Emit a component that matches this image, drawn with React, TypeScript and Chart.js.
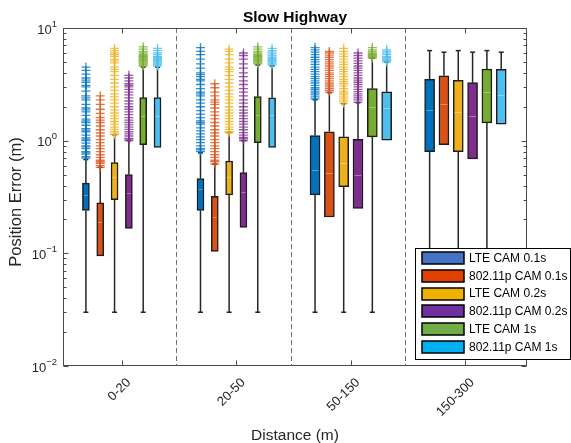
import React, { useEffect, useRef } from 'react';
import { Chart, registerables } from 'chart.js';

Chart.register(...registerables);

// ---------------- data ----------------
const categories = ['0-20', '20-50', '50-150', '150-300'];
const seriesNames = [
  'LTE CAM 0.1s',
  '802.11p CAM 0.1s',
  'LTE CAM 0.2s',
  '802.11p CAM 0.2s',
  'LTE CAM 1s',
  '802.11p CAM 1s',
];

// rows: series, columns: distance categories
const q1 = [
  [0.24, 0.24, 0.33, 0.8],
  [0.095, 0.104, 0.21, 0.92],
  [0.3, 0.33, 0.39, 0.8],
  [0.166, 0.17, 0.25, 0.69],
  [0.92, 0.96, 1.08, 1.44],
  [0.87, 0.87, 1.01, 1.4],
];
const medians = [
  [0.33, 0.37, 0.545, 1.88],
  [0.19, 0.21, 0.52, 2.13],
  [0.48, 0.48, 0.64, 1.81],
  [0.34, 0.35, 0.5, 1.67],
  [1.67, 1.7, 2.0, 2.68],
  [1.67, 1.68, 1.96, 2.56],
];
const q3 = [
  [0.42, 0.46, 1.11, 3.5],
  [0.28, 0.32, 1.2, 3.77],
  [0.64, 0.66, 1.08, 3.43],
  [0.5, 0.52, 1.03, 3.27],
  [2.41, 2.46, 2.9, 4.33],
  [2.41, 2.4, 2.71, 4.3],
];
const whiskerLow = [
  [0.03, 0.03, 0.03, 0.03],
  [0.095, 0.104, 0.21, 0.92],
  [0.03, 0.03, 0.03, 0.03],
  [0.166, 0.17, 0.25, 0.69],
  [0.03, 0.03, 0.03, 0.03],
  [0.87, 0.87, 1.01, 1.4],
];
const whiskerHigh = [
  [0.68, 0.78, 2.31, 6.3],
  [0.58, 0.62, 2.67, 6.1],
  [1.13, 1.18, 2.13, 6.3],
  [1.0, 1.0, 2.17, 6.1],
  [4.5, 4.7, 5.4, 6.3],
  [4.5, 4.6, 5.0, 6.1],
];

const outliersLte01 = [
  [0.7, 0.72, 0.76, 0.78, 0.8, 0.85, 0.88, 0.9, 0.95, 1.0, 1.03, 1.06, 1.12, 1.2, 1.24, 1.28, 1.37, 1.45, 1.5, 1.55, 1.68, 1.8, 1.88, 1.95, 2.1, 2.3, 2.4, 2.5, 2.75, 3.0, 3.1, 3.3, 3.45, 3.6, 3.9, 4.2, 4.5],
  [0.8, 0.83, 0.85, 0.9, 0.96, 1.02, 1.08, 1.15, 1.22, 1.3, 1.4, 1.45, 1.5, 1.6, 1.72, 1.85, 2.0, 2.15, 2.3, 2.5, 2.6, 2.7, 2.9, 3.15, 3.4, 3.5, 3.7, 3.85, 4.0, 4.4, 4.8, 5.3, 5.8, 6.2, 6.7],
  [2.35, 2.45, 2.55, 2.65, 2.75, 2.85, 2.95, 3.1, 3.25, 3.4, 3.55, 3.7, 3.9, 4.1, 4.3, 4.5, 4.75, 5.0, 5.25, 5.5, 5.8, 6.1, 6.4, 6.7],
  [],
];
const outliersP01 = [
  [0.58, 0.6, 0.63, 0.65, 0.67, 0.71, 0.75, 0.8, 0.85, 0.9, 0.96, 1.02, 1.1, 1.17, 1.25, 1.35, 1.45, 1.52, 1.6, 1.75, 1.9, 2.1, 2.3, 2.5],
  [0.62, 0.65, 0.67, 0.71, 0.75, 0.8, 0.85, 0.9, 0.96, 1.02, 1.1, 1.17, 1.25, 1.35, 1.45, 1.56, 1.68, 1.8, 1.95, 2.1, 2.2, 2.3, 2.5, 2.7, 2.95, 3.2],
  [2.7, 2.8, 2.9, 3.0, 3.12, 3.25, 3.4, 3.55, 3.7, 3.85, 4.0, 4.2, 4.4, 4.6, 4.8, 5.0, 5.25, 5.5, 5.75, 6.0, 6.2],
  [],
];
const outliersLte02 = [
  [1.13, 1.15, 1.2, 1.26, 1.32, 1.4, 1.48, 1.57, 1.66, 1.76, 1.87, 2.0, 2.15, 2.3, 2.45, 2.6, 2.8, 3.0, 3.25, 3.5, 3.8, 4.1, 4.3, 4.5, 4.9, 5.1, 5.3, 5.6, 5.8, 6.0, 6.3, 6.6],
  [1.18, 1.2, 1.26, 1.32, 1.4, 1.48, 1.57, 1.66, 1.76, 1.87, 2.0, 2.15, 2.3, 2.45, 2.6, 2.8, 3.0, 3.25, 3.5, 3.8, 4.1, 4.3, 4.5, 4.9, 5.3, 5.8, 6.2, 6.5],
  [2.15, 2.25, 2.35, 2.45, 2.55, 2.65, 2.75, 2.9, 3.05, 3.2, 3.35, 3.5, 3.7, 3.9, 4.1, 4.3, 4.5, 4.75, 5.0, 5.3, 5.6, 5.9, 6.2, 6.6],
  [],
];
const outliersP02 = [
  [1.0, 1.03, 1.05, 1.1, 1.15, 1.2, 1.26, 1.32, 1.38, 1.45, 1.52, 1.6, 1.7, 1.8, 1.9, 2.0, 2.12, 2.25, 2.4, 2.55, 2.7, 2.85, 3.0, 3.1, 3.2, 3.4, 3.6, 3.8],
  [1.0, 1.04, 1.07, 1.12, 1.18, 1.25, 1.32, 1.4, 1.48, 1.57, 1.66, 1.76, 1.87, 2.0, 2.15, 2.3, 2.5, 2.7, 2.9, 3.15, 3.4, 3.7, 4.0, 4.4, 4.8, 5.3, 5.7, 6.0],
  [2.2, 2.3, 2.4, 2.5, 2.6, 2.72, 2.85, 3.0, 3.15, 3.3, 3.45, 3.6, 3.8, 4.0, 4.2, 4.4, 4.6, 4.85, 5.1, 5.4, 5.7, 6.0],
  [],
];
const outliersLte1 = [
  [4.6, 4.7, 4.8, 4.9, 5.0, 5.1, 5.2, 5.3, 5.4, 5.5, 5.6, 5.7, 5.8, 6.0, 6.2, 6.5, 6.8],
  [4.8, 4.9, 5.0, 5.1, 5.2, 5.3, 5.4, 5.5, 5.6, 5.7, 5.8, 6.0, 6.2, 6.5, 6.8],
  [5.4, 5.5, 5.6, 5.7, 5.8, 5.9, 6.0, 6.2, 6.4, 6.7],
  [],
];
const outliersP1 = [
  [4.6, 4.7, 4.8, 4.9, 5.0, 5.1, 5.2, 5.3, 5.4, 5.5, 5.6, 5.8, 6.0, 6.3, 6.6],
  [4.7, 4.8, 4.9, 5.0, 5.1, 5.2, 5.3, 5.4, 5.5, 5.7, 5.9, 6.1, 6.3, 6.6],
  [5.0, 5.1, 5.2, 5.3, 5.4, 5.5, 5.6, 5.8, 6.0, 6.2, 6.4],
  [],
];
const outliers = [outliersLte01, outliersP01, outliersLte02, outliersP02, outliersLte1, outliersP1];

const yTickValues = [0.01, 0.1, 1, 10];
const yTickExponents = ['-2', '-1', '0', '1'];

// ---------------- styles / layout ----------------
const boxColors = ['#0072BD', '#D95319', '#EDB120', '#7E2F8E', '#77AC30', '#4DBEEE'];
const legendColors = ['#4472C4', '#E04000', '#EDB100', '#7030A0', '#70AD47', '#00B0F0'];
const FONT = "'Liberation Sans', Arial, Helvetica, sans-serif";
const W = 571;
const H = 443;
const PLOT_LEFT = 63;
const PLOT_RIGHT = 527;
const PLOT_TOP = 28;
const PLOT_BOTTOM = 366;
const GROUP_STRIDE = 8;
const pos = (g: number, s: number) => g * GROUP_STRIDE + s + 1;
const groupCenter = (g: number) => g * GROUP_STRIDE + 3.5;
const boxPx = (g: number) => (g < 2 ? 7 : 10);

function rgba(hex: string, a: number) {
  const n = parseInt(hex.slice(1), 16);
  return `rgba(${(n >> 16) & 255},${(n >> 8) & 255},${n & 255},${a})`;
}

const extrasPlugin = {
  id: 'boxplotExtras',
  beforeDatasetsDraw(chart: any) {
    const { ctx, chartArea: a } = chart;
    const x = chart.scales.x;
    const y = chart.scales.y;
    ctx.save();
    // dashed group separators
    ctx.strokeStyle = '#707070';
    ctx.lineWidth = 1;
    ctx.setLineDash([5, 3]);
    for (let g = 1; g < categories.length; g++) {
      const px = Math.round(x.getPixelForValue(g * GROUP_STRIDE - 0.7)) + 0.5;
      ctx.beginPath();
      ctx.moveTo(px, a.top);
      ctx.lineTo(px, a.bottom);
      ctx.stroke();
    }
    ctx.setLineDash([]);
    // whiskers
    ctx.strokeStyle = '#262626';
    ctx.lineWidth = 1.5;
    seriesNames.forEach((_, s) => {
      categories.forEach((__, g) => {
        const px = x.getPixelForValue(pos(g, s));
        const segs = [
          [q3[s][g], whiskerHigh[s][g]],
          [q1[s][g], whiskerLow[s][g]],
        ];
        segs.forEach(([from, to]) => {
          if (Math.abs(to - from) < 1e-9) return;
          const y0 = y.getPixelForValue(from);
          const y1 = y.getPixelForValue(to);
          ctx.beginPath();
          ctx.moveTo(px, y0);
          ctx.lineTo(px, y1);
          ctx.stroke();
          ctx.beginPath();
          ctx.moveTo(px - 2.5, y1);
          ctx.lineTo(px + 2.5, y1);
          ctx.stroke();
        });
      });
    });
    ctx.restore();
  },
  afterDatasetsDraw(chart: any) {
    const { ctx } = chart;
    const x = chart.scales.x;
    const y = chart.scales.y;
    ctx.save();
    ctx.strokeStyle = 'rgba(255,255,255,0.35)';
    ctx.lineWidth = 1;
    seriesNames.forEach((_, s) => {
      categories.forEach((__, g) => {
        const px = x.getPixelForValue(pos(g, s));
        const py = Math.round(y.getPixelForValue(medians[s][g])) + 0.5;
        const hw = boxPx(g) / 2 - 1.5;
        ctx.beginPath();
        ctx.moveTo(px - hw, py);
        ctx.lineTo(px + hw, py);
        ctx.stroke();
      });
    });
    ctx.restore();
  },
  afterDraw(chart: any) {
    const { ctx, chartArea: a } = chart;
    const x = chart.scales.x;
    const y = chart.scales.y;
    ctx.save();
    // frame
    const L = Math.round(a.left) + 0.5;
    const R = Math.round(a.right) - 0.5;
    const T = Math.round(a.top) + 0.5;
    const B = Math.round(a.bottom) - 0.5;
    ctx.strokeStyle = '#4a4a4a';
    ctx.lineWidth = 1;
    ctx.strokeRect(L, T, R - L, B - T);
    // x ticks (inward, top & bottom)
    ctx.beginPath();
    categories.forEach((_, g) => {
      const px = Math.round(x.getPixelForValue(groupCenter(g))) + 0.5;
      ctx.moveTo(px, B);
      ctx.lineTo(px, B - 5);
      ctx.moveTo(px, T);
      ctx.lineTo(px, T + 5);
    });
    // y ticks, major & minor
    yTickValues.forEach((v, i) => {
      const py = Math.round(y.getPixelForValue(v)) + 0.5;
      ctx.moveTo(L, py);
      ctx.lineTo(L + 5, py);
      ctx.moveTo(R, py);
      ctx.lineTo(R - 5, py);
      if (i < yTickValues.length - 1) {
        for (let k = 2; k <= 9; k++) {
          const pm = Math.round(y.getPixelForValue(v * k)) + 0.5;
          ctx.moveTo(L, pm);
          ctx.lineTo(L + 3, pm);
          ctx.moveTo(R, pm);
          ctx.lineTo(R - 3, pm);
        }
      }
    });
    ctx.stroke();

    // y tick labels 10^n
    ctx.fillStyle = '#262626';
    ctx.textBaseline = 'middle';
    yTickValues.forEach((v, i) => {
      const py = y.getPixelForValue(v);
      const right = a.left - 6;
      ctx.font = `9.5px ${FONT}`;
      ctx.textAlign = 'right';
      const exp = yTickExponents[i].replace('-', '\u2212');
      const ew = ctx.measureText(exp).width;
      ctx.fillText(exp, right, py - 4);
      ctx.font = `13px ${FONT}`;
      ctx.fillText('10', right - ew, py + 2);
    });

    // title
    const cx = (a.left + a.right) / 2;
    ctx.fillStyle = '#000';
    ctx.textAlign = 'center';
    ctx.textBaseline = 'alphabetic';
    ctx.font = `bold 15.5px ${FONT}`;
    ctx.fillText('Slow Highway', cx, 22);

    // axis titles
    ctx.fillStyle = '#262626';
    ctx.font = `15.5px ${FONT}`;
    ctx.fillText('Distance (m)', cx, 440);
    ctx.save();
    ctx.translate(21, 202);
    ctx.rotate(-Math.PI / 2);
    ctx.font = `16.5px ${FONT}`;
    ctx.fillText('Position Error (m)', 0, 0);
    ctx.restore();

    // legend
    const lx = 415;
    const ly = 248;
    const lw = 155;
    const lh = 111;
    ctx.fillStyle = '#fff';
    ctx.fillRect(lx, ly, lw, lh);
    ctx.strokeStyle = '#000';
    ctx.lineWidth = 1;
    ctx.strokeRect(lx + 0.5, ly + 0.5, lw, lh);
    ctx.font = `12px ${FONT}`;
    ctx.textAlign = 'left';
    ctx.textBaseline = 'middle';
    seriesNames.forEach((name, i) => {
      const cy = ly + 10 + i * 17.8;
      ctx.fillStyle = legendColors[i];
      ctx.fillRect(422, Math.round(cy - 6), 42, 12);
      ctx.strokeStyle = '#000';
      ctx.lineWidth = 1.5;
      ctx.strokeRect(422, Math.round(cy - 6), 42, 12);
      ctx.fillStyle = '#000';
      ctx.fillText(name, 469, cy + 0.5);
    });
    ctx.restore();
  },
};

export default function App() {
  const canvasRef = useRef<HTMLCanvasElement | null>(null);

  useEffect(() => {
    if (!canvasRef.current) return;
    const datasets: any[] = [];
    seriesNames.forEach((name, s) => {
      [[0, 1], [2, 3]].forEach((groups) => {
        datasets.push({
          type: 'bar',
          label: name,
          data: groups.map((g) => ({ x: pos(g, s), y: [q1[s][g], q3[s][g]] })),
          backgroundColor: boxColors[s],
          borderColor: '#1c1c1c',
          borderWidth: 1.5,
          borderSkipped: false,
          barThickness: boxPx(groups[0]),
          grouped: false,
          order: 2,
        });
      });
      datasets.push({
        type: 'scatter',
        label: name + ' outliers',
        data: categories.flatMap((_, g) => outliers[s][g].map((v) => ({ x: pos(g, s), y: v }))),
        pointStyle: 'cross',
        pointRadius: 4.5,
        borderColor: rgba(boxColors[s], 0.8),
        backgroundColor: rgba(boxColors[s], 0.8),
        borderWidth: 1.3,
        showLine: false,
        order: 1,
      });
    });

    const chart = new Chart(canvasRef.current, {
      type: 'bar',
      data: { datasets },
      options: {
        responsive: false,
        animation: false,
        devicePixelRatio: 1,
        events: [],
        layout: { padding: { top: PLOT_TOP, right: W - PLOT_RIGHT, left: 0, bottom: 0 } },
        plugins: {
          legend: { display: false },
          title: { display: false },
          tooltip: { enabled: false },
        },
        scales: {
          x: {
            type: 'linear',
            min: -0.6,
            max: 31.8,
            offset: false,
            grid: { display: false, drawTicks: false },
            border: { display: false },
            afterBuildTicks: (sc: any) => {
              sc.ticks = categories.map((_, g) => ({ value: groupCenter(g) }));
            },
            afterFit: (sc: any) => {
              sc.height = H - PLOT_BOTTOM;
            },
            ticks: {
              autoSkip: false,
              minRotation: 45,
              maxRotation: 45,
              padding: 9,
              labelOffset: 7,
              color: '#262626',
              font: { family: FONT, size: 13 },
              callback: (_v: any, i: number) => categories[i],
            },
          },
          y: {
            type: 'logarithmic',
            min: 0.01,
            max: 10,
            grid: { display: false, drawTicks: false },
            border: { display: false },
            ticks: { display: false },
            afterFit: (sc: any) => {
              sc.width = PLOT_LEFT;
            },
          },
        },
      } as any,
      plugins: [extrasPlugin],
    });
    return () => chart.destroy();
  }, []);

  return (
    <div style={{ position: 'fixed', left: 0, top: 0, width: W, height: H, background: '#fff' }}>
      <canvas ref={canvasRef} width={W} height={H} style={{ width: W, height: H }} />
    </div>
  );
}
